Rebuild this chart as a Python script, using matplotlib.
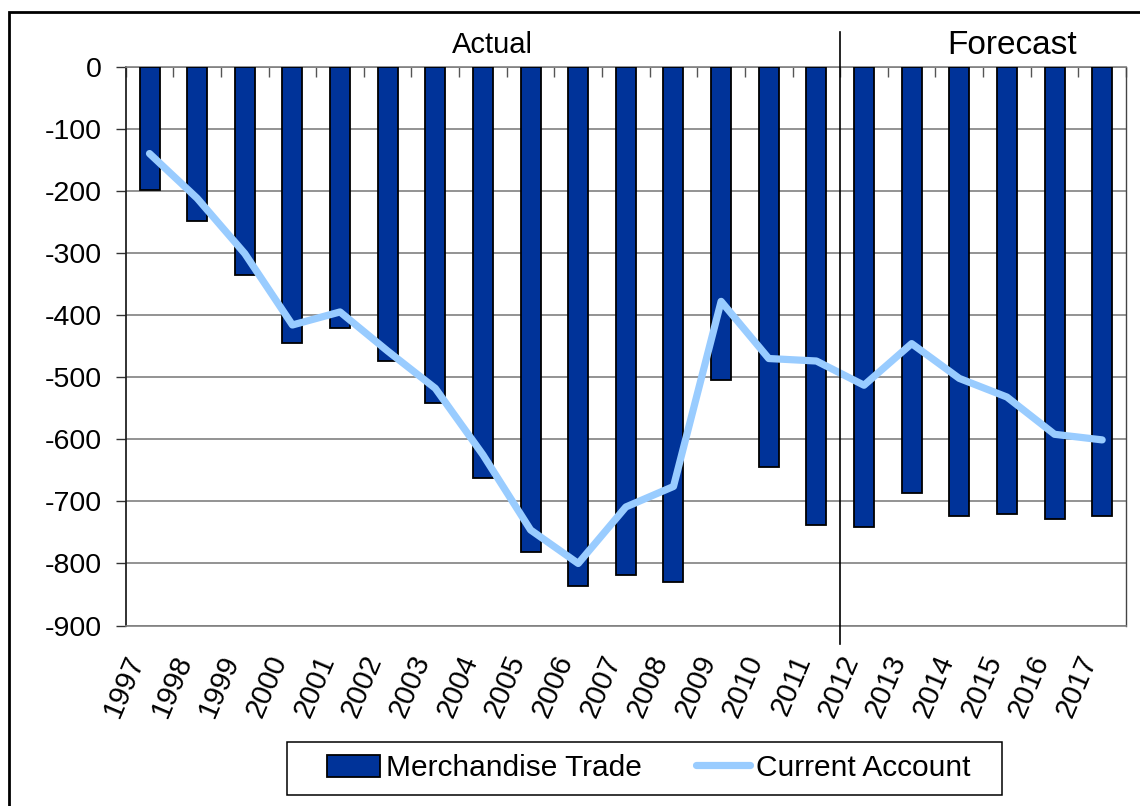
import matplotlib
matplotlib.use("Agg")
import matplotlib.pyplot as plt
from matplotlib.patches import Rectangle
import numpy as np

plt.rcParams['font.family'] = ['Liberation Sans', 'DejaVu Sans']
plt.rcParams['axes.unicode_minus'] = False

# data (billions of dollars)
years = [str(y) for y in range(1997, 2018)]
merch_trade = [-199, -248, -336, -445, -421, -474, -541, -663, -781, -836,
               -819, -829, -505, -645, -738, -741, -686, -724, -721, -729, -724]
current_acct = [-140, -212, -301, -416, -395, -458, -518, -625, -746, -800,
                -709, -676, -378, -470, -474, -513, -446, -502, -532, -592, -601]
first_forecast = 15  # index of 2012

W, H = 1140, 806
fig = plt.figure(figsize=(W / 100, H / 100), dpi=100)
ax = fig.add_axes([125.7 / W, 1 - 625.6 / H, (1126 - 125.7) / W, (625.6 - 66.6) / H])

x = np.arange(len(years))
bars = ax.bar(x, merch_trade, width=0.42, color='#003399', edgecolor='black',
              linewidth=1.3, zorder=3, label='Merchandise Trade')
line, = ax.plot(x, current_acct, color='#99CCFF', linewidth=5.2, zorder=4,
                solid_capstyle='round', label='Current Account')

ax.set_xlim(-0.5, len(years) - 0.5)
ax.set_ylim(-900, 0)
ax.set_yticks(np.arange(-900, 1, 100))
ax.yaxis.grid(True, color='#808080', linewidth=1.2, zorder=0)
ax.set_axisbelow(True)

for s in ['top', 'bottom']:
    ax.spines[s].set_color('#808080')
    ax.spines[s].set_linewidth(1.2)
ax.spines['left'].set_color('#222222')
ax.spines['left'].set_linewidth(1.3)
ax.spines['right'].set_color('#444444')
ax.spines['right'].set_linewidth(1.0)

ax.tick_params(axis='y', direction='out', length=7, width=1.0, color='#333333',
               labelsize=20.5, pad=10)
ax.set_xticks(x)
ax.set_xticklabels(years, rotation=67, ha='right', fontsize=21)
ax.tick_params(axis='x', which='major', length=0, pad=18)
ax.set_xticks(np.arange(-0.5, len(years), 1), minor=True)
ax.tick_params(axis='x', which='minor', bottom=False, top=True, direction='in',
               length=7, width=1.0, color='#555555')

# actual / forecast divider
ax.plot([first_forecast - 0.5] * 2, [56, -930], color='black', linewidth=1.2,
        clip_on=False, zorder=5)
fig.text(492 / W, 1 - 53 / H, 'Actual', ha='center', va='baseline', fontsize=21)
fig.text(1012 / W, 1 - 54 / H, 'Forecast', ha='center', va='baseline', fontsize=24)

# legend: entries without frame, box drawn separately (wider side padding)
fig.legend([bars, line], ['Merchandise Trade', 'Current Account'],
           loc='center', bbox_to_anchor=(648.5 / W, 1 - 768 / H), ncol=2,
           fontsize=21.5, frameon=False,
           handlelength=1.8, handleheight=0.75, handletextpad=0.2,
           columnspacing=1.8, borderpad=0, borderaxespad=0)
fig.add_artist(Rectangle((287 / W, 1 - 795 / H), (1002 - 287) / W, 53 / H,
                         transform=fig.transFigure, fill=False,
                         edgecolor='black', linewidth=1.1))

# outer chart frame (cut off at right and bottom in the source)
fig.add_artist(Rectangle((9 / W, -0.1), 1.2, 1.1 - 12 / H,
                         transform=fig.transFigure, fill=False,
                         edgecolor='black', linewidth=2.0))

fig.savefig('out.png', dpi=100)
